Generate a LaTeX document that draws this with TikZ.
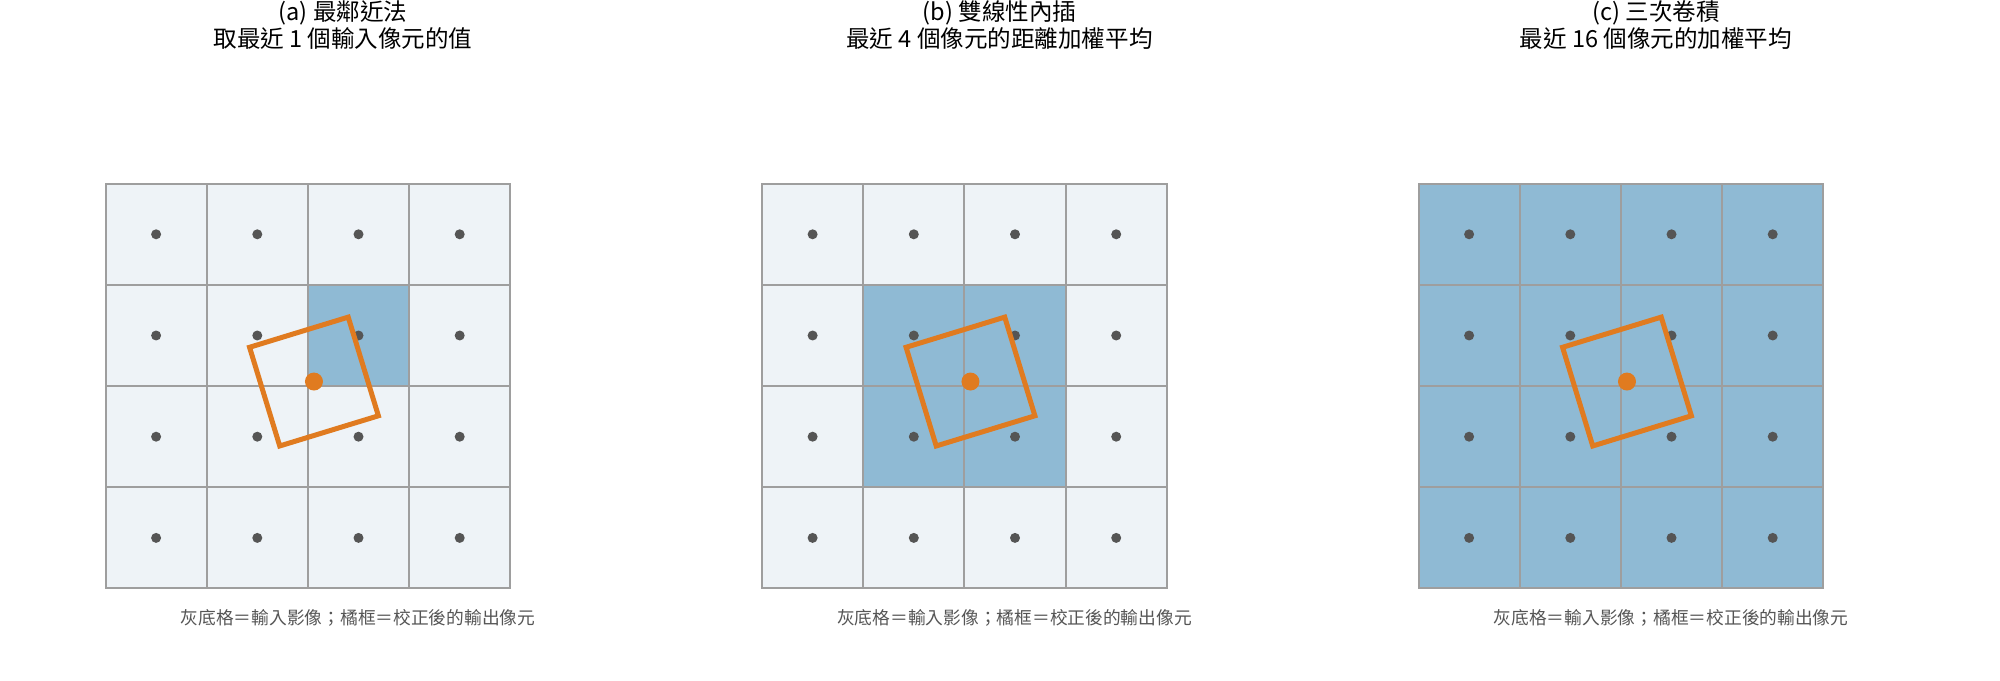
\documentclass[tikz,border=0pt]{standalone}
\usepackage{fontspec}
\setmainfont{Noto Sans CJK TC}
\usetikzlibrary{positioning}

\definecolor{cellgray}{HTML}{EEF3F7}
\definecolor{cellblue}{HTML}{8FBAD4}
\definecolor{gridline}{HTML}{9E9E9E}
\definecolor{dotgray}{HTML}{555555}
\definecolor{outorange}{HTML}{E07B20}

\tikzset{
	cell/.style={draw=gridline,line width=0.04cm,minimum size=2.024cm,inner sep=0,outer sep=0},
	outbox/.style={draw=outorange,line width=0.1cm,minimum size=2.064cm,inner sep=0,rotate=17},
	paneltitle/.style={align=center,font=\fontsize{13.4pt}{15.6pt}\selectfont,inner sep=0},
	panelnote/.style={text=dotgray,font=\fontsize{10.1pt}{12pt}\selectfont,inner sep=0}
}

\begin{document}
\begin{tikzpicture}[x=0.02cm,y=0.02cm]
	\useasboundingbox (0,0) rectangle (2000,680);
	
	% grids: \lo..\hi = blue cells
	\foreach \p/\lo/\hi in {0/2/2,1/1/2,2/0/3}{
		\foreach \i in {0,...,3}{
			\foreach \j in {0,...,3}{
				\pgfmathtruncatemacro\inblue{(\i>=\lo)&&(\i<=\hi)&&(\j>=\lo)&&(\j<=\hi)}
				\ifnum\inblue=1 \def\cellfill{cellblue}\else\def\cellfill{cellgray}\fi
				\node[cell,fill=\cellfill] at ({105.5+656.5*\p+101.2*(\i+0.5)},{91.5+101.2*(\j+0.5)}) (cell-\p-\i-\j) {};
				\fill[dotgray] (cell-\p-\i-\j.center) circle[radius=0.1cm];
			}
		}
		\node[outbox] at ({105.5+656.5*\p+101.2*2.06},{91.5+101.2*2.045}) (out-\p) {};
		\fill[outorange] (out-\p.center) circle[radius=0.18cm];
		\node[panelnote] at ({358+656.5*\p},62) (note-\p) {灰底格＝輸入影像；橘框＝校正後的輸出像元};
	}
	
	\node[paneltitle] at (343,655) (title-a) {(a) 最鄰近法\\取最近 1 個輸入像元的值};
	\node[paneltitle] at (999.5,655) (title-b) {(b) 雙線性內插\\最近 4 個像元的距離加權平均};
	\node[paneltitle] at (1656,655) (title-c) {(c) 三次卷積\\最近 16 個像元的加權平均};
	
\end{tikzpicture}
\end{document}
